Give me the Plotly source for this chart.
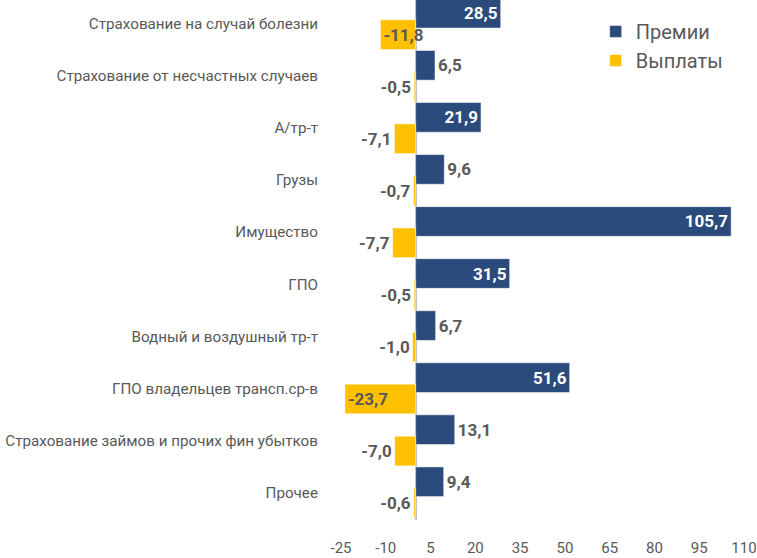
import plotly.graph_objects as go

categories = [
    "Страхование на случай болезни",
    "Страхование от несчастных случаев",
    "А/тр-т",
    "Грузы",
    "Имущество",
    "ГПО",
    "Водный и воздушный тр-т",
    "ГПО владельцев трансп.ср-в",
    "Страхование займов и прочих фин убытков",
    "Прочее",
]
premii = [28.5, 6.5, 21.9, 9.6, 105.7, 31.5, 6.7, 51.6, 13.1, 9.4]
vyplaty = [-11.8, -0.5, -7.1, -0.7, -7.7, -0.5, -1.0, -23.7, -7.0, -0.6]
tick_vals = [-25, -10, 5, 20, 35, 50, 65, 80, 95, 110]

FONT = "Roboto, sans-serif"
BLUE = "#2A4B7C"
YELLOW = "#FFC000"
GREY = "#595959"

def fmt(v):
    return f"{v:.1f}".replace(".", ",")

p_pos = ["inside" if v > 20 else "outside" for v in premii]
v_pos = ["inside" if v < -10 else "outside" for v in vyplaty]

fig = go.Figure()
fig.add_trace(go.Bar(
    y=categories, x=premii, orientation="h", name="Премии",
    marker=dict(color=BLUE, line=dict(color="rgba(255,255,255,0.5)", width=1)),
    width=0.57, offset=-0.49,
    text=[fmt(v) for v in premii], textposition=p_pos, textangle=0,
    insidetextanchor="end", constraintext="none", cliponaxis=False,
    insidetextfont=dict(family=FONT, size=17, color="white", weight="bold"),
    outsidetextfont=dict(family=FONT, size=17, color=GREY, weight="bold"),
))
fig.add_trace(go.Bar(
    y=categories, x=vyplaty, orientation="h", name="Выплаты",
    marker=dict(color=YELLOW, line=dict(color="rgba(255,255,255,0.5)", width=1)),
    width=0.57, offset=-0.08,
    text=[fmt(v) for v in vyplaty], textposition=v_pos, textangle=0,
    insidetextanchor="end", constraintext="none", cliponaxis=False,
    insidetextfont=dict(family=FONT, size=17, color=GREY, weight="bold"),
    outsidetextfont=dict(family=FONT, size=17, color=GREY, weight="bold"),
))

fig.update_layout(
    width=757, height=558,
    margin=dict(l=341, r=13, t=0, b=38),
    barmode="overlay",
    plot_bgcolor="white", paper_bgcolor="white",
    font=dict(family=FONT, size=16, color=GREY),
    legend=dict(x=0.632, y=0.977, xanchor="left", yanchor="top",
                font=dict(family=FONT, size=20, color=GREY),
                bgcolor="rgba(0,0,0,0)", traceorder="normal"),
    xaxis=dict(range=[-25, 110], tickvals=tick_vals,
               ticktext=[str(t) for t in tick_vals],
               showgrid=False, zeroline=True, zerolinecolor="#BFBFBF", zerolinewidth=2,
               showline=False, ticks="outside", ticklen=14, tickcolor="rgba(0,0,0,0)",
               automargin=False, ticklabeloverflow="allow",
               tickfont=dict(family=FONT, size=15, color=GREY)),
    yaxis=dict(range=[9.53, -0.46], showgrid=False, zeroline=False, showline=False,
               ticks="outside", ticklen=19, tickcolor="rgba(0,0,0,0)",
               automargin=False,
               tickfont=dict(family=FONT, size=15.2, color=GREY)),
)

fig.write_html("out.html", config={"displayModeBar": False},
               post_script="document.body.style.margin='0';")
